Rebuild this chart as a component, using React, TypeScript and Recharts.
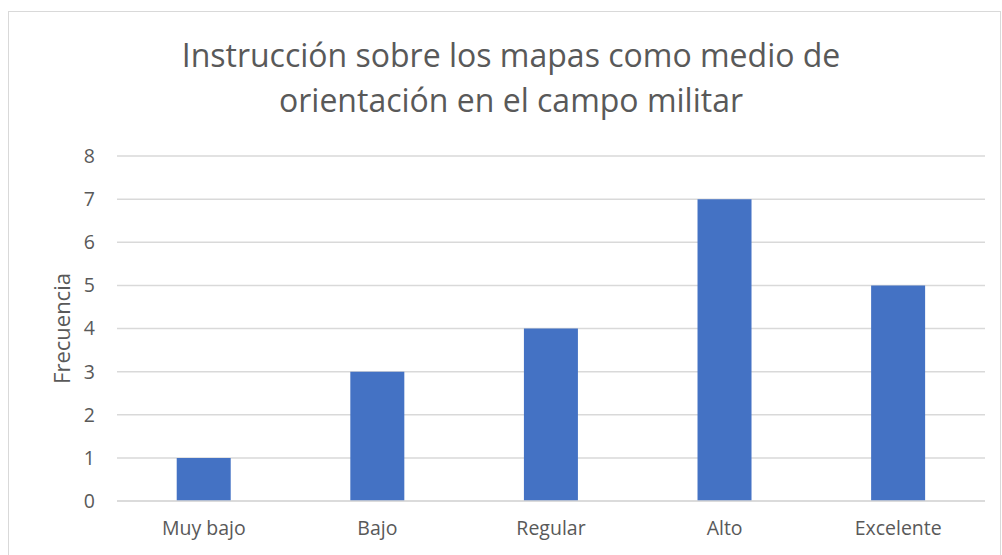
import { BarChart, Bar, XAxis, YAxis, CartesianGrid } from "recharts";

const categories = ["Muy bajo", "Bajo", "Regular", "Alto", "Excelente"];
const frecuencia = [1, 3, 4, 7, 5];
const yTicks = [0, 1, 2, 3, 4, 5, 6, 7, 8];

const chartData = categories.map((name, i) => ({ name, value: frecuencia[i] }));

const FONT = "'Open Sans', Lato, sans-serif";
const TEXT = "#595959";

export default function App() {
  return (
    <div
      style={{
        position: "fixed",
        left: 0,
        top: 0,
        width: 1002,
        height: 555,
        background: "#fff",
        overflow: "hidden",
        fontFamily: FONT,
      }}
    >
      {/* chart frame */}
      <div
        style={{
          position: "absolute",
          left: 8,
          top: 11,
          width: 991,
          height: 560,
          border: "1px solid #d9d9d9",
        }}
      />
      <div
        style={{
          position: "absolute",
          left: 0,
          top: 32,
          width: 1022,
          textAlign: "center",
          fontSize: 32,
          fontWeight: 400,
          lineHeight: "45px",
          color: TEXT,
        }}
      >
        Instrucción sobre los mapas como medio de
        <br />
        orientación en el campo militar
      </div>
      <div style={{ position: "absolute", left: 0, top: 0 }}>
        <BarChart
          width={1002}
          height={555}
          data={chartData}
          margin={{ top: 156, right: 17, bottom: 24, left: 57 }}
          barCategoryGap="34.4%"
        >
          <CartesianGrid vertical={false} stroke="#d9d9d9" strokeWidth={1.5} />
          <XAxis
            dataKey="name"
            height={30}
            tickLine={false}
            axisLine={{ stroke: "#d9d9d9", strokeWidth: 1.5 }}
            tick={{ fill: TEXT, fontSize: 19.5, fontFamily: FONT }}
            tickMargin={14}
          />
          <YAxis
            width={60}
            domain={[0, 8]}
            ticks={yTicks}
            interval={0}
            tickLine={false}
            axisLine={false}
            tickSize={0}
            tickMargin={22}
            tick={{ fill: TEXT, fontSize: 19.5, fontFamily: FONT }}
            label={{
              value: "Frecuencia",
              angle: -90,
              position: "insideLeft",
              offset: 5,
              style: { fill: TEXT, fontSize: 22, fontFamily: FONT, textAnchor: "middle" },
            }}
          />
          <Bar dataKey="value" fill="#4472c4" isAnimationActive={false} />
        </BarChart>
      </div>
    </div>
  );
}
